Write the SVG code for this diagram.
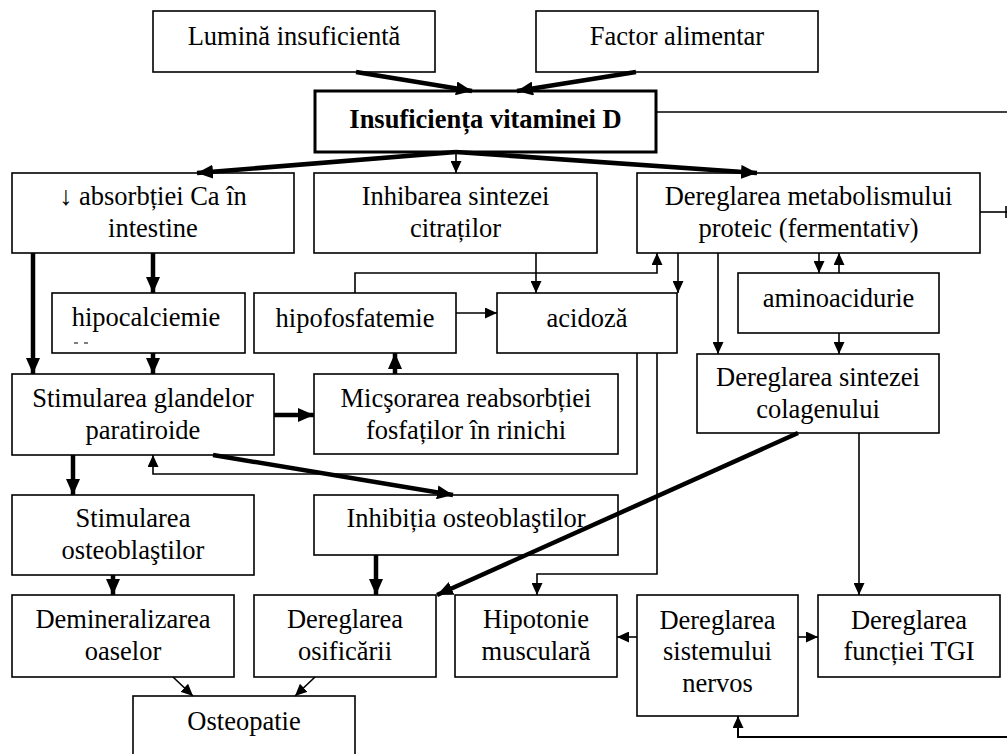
<svg xmlns="http://www.w3.org/2000/svg" width="1007" height="754" viewBox="0 0 1007 754">
<style>
rect{fill:#fff;stroke:#000;stroke-width:1.6}
rect.main{stroke-width:3}
text{font-family:"Liberation Serif","Times New Roman",serif;font-size:26.5px;fill:#000;text-anchor:middle}
text.b{font-weight:bold;font-size:26.5px}
.thin{fill:none;stroke:#000;stroke-width:1.6}
.thick{fill:none;stroke:#000;stroke-width:4.5}
</style>
<defs>
<marker id="ah" markerUnits="userSpaceOnUse" markerWidth="12" markerHeight="11" refX="12" refY="5.5" orient="auto"><path d="M0,0 L12,5.5 L0,11 z" fill="#000"/></marker>
<marker id="ahT" markerUnits="userSpaceOnUse" markerWidth="16" markerHeight="14" refX="16" refY="7" orient="auto"><path d="M0,0 L16,7 L0,14 z" fill="#000"/></marker>
</defs>
<rect x="0" y="0" width="1007" height="754" style="stroke:none"/>
<g id="n-lumina"><rect x="153" y="11" width="282" height="61"/><text x="294" y="45">Lumină insuficientă</text></g>
<g id="n-factor"><rect x="536" y="11" width="282" height="61"/><text x="677" y="45">Factor alimentar</text></g>
<g id="n-insuf"><rect class="main" x="315" y="91" width="341" height="61"/><text class="b" x="485.5" y="128">Insuficiența vitaminei D</text></g>
<g id="n-absorbtie"><rect x="12" y="173" width="282" height="80"/><text x="153" y="205">↓ absorbției Ca în</text><text x="153" y="237">intestine</text></g>
<g id="n-citrati"><rect x="314" y="173" width="283" height="80"/><text x="455.5" y="205">Inhibarea sintezei</text><text x="455.5" y="237">citraților</text></g>
<g id="n-metab"><rect x="637" y="173" width="343" height="80"/><text x="808.5" y="205">Dereglarea metabolismului</text><text x="808.5" y="237">proteic (fermentativ)</text></g>
<g id="n-hipocalc"><rect x="52" y="293" width="193" height="60"/><text x="146" y="326">hipocalciemie</text><line x1="74" y1="343" x2="78" y2="343" stroke="#000" stroke-width="1"/><line x1="84" y1="343" x2="88" y2="343" stroke="#000" stroke-width="1"/></g>
<g id="n-hipofosf"><rect x="254" y="293" width="202" height="60"/><text x="355" y="327">hipofosfatemie</text></g>
<g id="n-acidoza"><rect x="497" y="293" width="180" height="60"/><text x="587" y="327">acidoză</text></g>
<g id="n-amino"><rect x="738" y="273" width="201" height="60"/><text x="838.5" y="307">aminoacidurie</text></g>
<g id="n-paratiroide"><rect x="12" y="374" width="262" height="81"/><text x="143" y="407">Stimularea glandelor</text><text x="143" y="439">paratiroide</text></g>
<g id="n-micsorarea"><rect x="314" y="374" width="304" height="80"/><text x="466" y="407">Micşorarea reabsorbției</text><text x="466" y="439">fosfaților în rinichi</text></g>
<g id="n-colagen"><rect x="697" y="354" width="242" height="79"/><text x="818" y="386">Dereglarea sintezei</text><text x="818" y="418">colagenului</text></g>
<g id="n-stimosteo"><rect x="12" y="495" width="242" height="80"/><text x="133" y="527">Stimularea</text><text x="133" y="559">osteoblaştilor</text></g>
<g id="n-inhibosteo"><rect x="314" y="495" width="304" height="60"/><text x="466" y="527">Inhibiția osteoblaştilor</text></g>
<g id="n-demin"><rect x="12" y="595" width="222" height="82"/><text x="123" y="628">Demineralizarea</text><text x="123" y="660">oaselor</text></g>
<g id="n-osif"><rect x="254" y="595" width="182" height="82"/><text x="345" y="628">Dereglarea</text><text x="345" y="660">osificării</text></g>
<g id="n-hipotonie"><rect x="455" y="595" width="162" height="82"/><text x="536" y="628">Hipotonie</text><text x="536" y="660">musculară</text></g>
<g id="n-nervos"><rect x="637" y="595" width="161" height="121"/><text x="717.5" y="629">Dereglarea</text><text x="717.5" y="660">sistemului</text><text x="717.5" y="692">nervos</text></g>
<g id="n-tgi"><rect x="818" y="595" width="182" height="82"/><text x="909" y="629">Dereglarea</text><text x="909" y="660">funcției TGI</text></g>
<g id="n-osteopatie"><rect x="133" y="696" width="222" height="70"/><text x="244" y="730">Osteopatie</text></g>
<g id="connectors">
<line class="thick" x1="356" y1="72" x2="472" y2="91" marker-end="url(#ahT)"/>
<line class="thick" x1="636" y1="72" x2="517" y2="91" marker-end="url(#ahT)"/>
<line class="thick" x1="456" y1="152" x2="197" y2="173" marker-end="url(#ahT)"/>
<line class="thick" x1="456" y1="152" x2="757" y2="173" marker-end="url(#ahT)"/>
<line class="thin" x1="456" y1="152" x2="456" y2="173" marker-end="url(#ah)"/>
<line class="thin" x1="656" y1="112" x2="1010" y2="112"/>
<line class="thin" x1="980" y1="212" x2="1007" y2="212"/>
<line class="thin" x1="1006" y1="206" x2="1006" y2="218"/>
<line class="thick" x1="33" y1="253" x2="33" y2="374" marker-end="url(#ahT)"/>
<line class="thick" x1="153" y1="253" x2="153" y2="293" marker-end="url(#ahT)"/>
<line class="thick" x1="153" y1="353" x2="153" y2="374" marker-end="url(#ahT)"/>
<line class="thin" x1="456" y1="313" x2="497" y2="313" marker-end="url(#ah)"/>
<polyline class="thin" points="355,293 355,273 657,273 657,253" marker-end="url(#ah)"/>
<line class="thin" x1="536" y1="253" x2="536" y2="293" marker-end="url(#ah)"/>
<line class="thin" x1="678" y1="253" x2="678" y2="293" marker-end="url(#ah)"/>
<line class="thin" x1="718" y1="253" x2="718" y2="354" marker-end="url(#ah)"/>
<line class="thin" x1="819" y1="253" x2="819" y2="273" marker-end="url(#ah)"/>
<line class="thin" x1="839" y1="273" x2="839" y2="253" marker-end="url(#ah)"/>
<line class="thin" x1="839" y1="333" x2="839" y2="354" marker-end="url(#ah)"/>
<line class="thick" x1="395" y1="374" x2="395" y2="353" marker-end="url(#ahT)"/>
<line class="thick" x1="274" y1="415" x2="314" y2="415" marker-end="url(#ahT)"/>
<polyline class="thin" points="637,353 637,474 153,474 153,455" marker-end="url(#ah)"/>
<line class="thick" x1="73" y1="455" x2="73" y2="495" marker-end="url(#ahT)"/>
<line class="thick" x1="213" y1="455" x2="453" y2="495" marker-end="url(#ahT)"/>
<polyline class="thin" points="657,353 657,574 537,574 537,595" marker-end="url(#ah)"/>
<line class="thick" x1="798" y1="433" x2="437" y2="595" marker-end="url(#ahT)"/>
<line class="thin" x1="859" y1="433" x2="859" y2="595" marker-end="url(#ah)"/>
<line class="thick" x1="113" y1="575" x2="113" y2="595" marker-end="url(#ahT)"/>
<line class="thick" x1="376" y1="555" x2="376" y2="595" marker-end="url(#ahT)"/>
<line class="thin" x1="637" y1="637" x2="617" y2="637" marker-end="url(#ah)"/>
<line class="thin" x1="798" y1="637" x2="818" y2="637" marker-end="url(#ah)"/>
<polyline class="thin" points="1010,737 738,737 738,716" style="stroke-width:2" marker-end="url(#ah)"/>
<line class="thin" x1="173" y1="677" x2="193" y2="696" marker-end="url(#ah)"/>
<line class="thin" x1="315" y1="677" x2="295" y2="696" marker-end="url(#ah)"/>
</g>
</svg>
